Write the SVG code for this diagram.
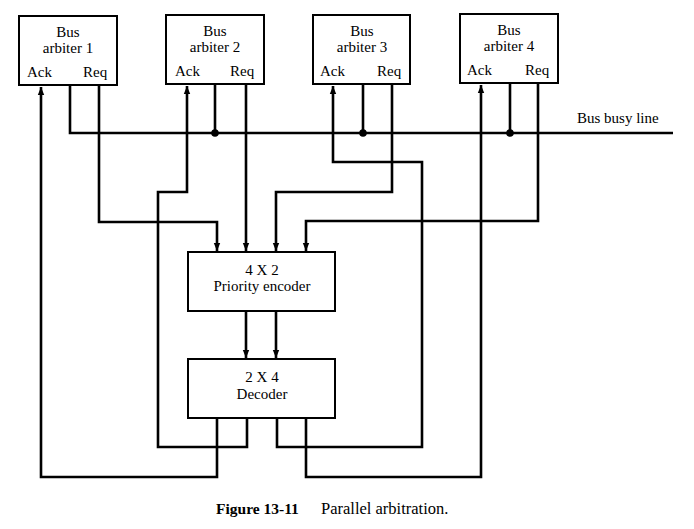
<svg xmlns="http://www.w3.org/2000/svg" width="694" height="529" viewBox="0 0 694 529">
<defs>
<marker id="arr" markerUnits="userSpaceOnUse" markerWidth="8" markerHeight="11" refX="10" refY="4" orient="auto" viewBox="0 0 10 8">
<path d="M0,0 L10,4 L0,8 z" fill="#000"/>
</marker>
<style>
.box{fill:#fff;stroke:#000;stroke-width:2}
.t{font-family:"Liberation Serif","Times New Roman",serif;font-size:15px;fill:#000}
.c{text-anchor:middle}
.w{fill:none;stroke:#000;stroke-width:2.6;stroke-linejoin:miter}
.a{marker-end:url(#arr)}
</style>
</defs>
<rect width="694" height="529" fill="#fff"/>

<g id="arbiter1">
<rect class="box" x="19" y="16" width="98" height="69"/>
<text class="t c" x="68" y="37">Bus</text>
<text class="t c" x="68" y="53">arbiter 1</text>
<text class="t" x="27" y="77">Ack</text>
<text class="t" x="83" y="77">Req</text>
</g>
<g id="arbiter2">
<rect class="box" x="166" y="15" width="98" height="69"/>
<text class="t c" x="215" y="36">Bus</text>
<text class="t c" x="215" y="52">arbiter 2</text>
<text class="t" x="175" y="76">Ack</text>
<text class="t" x="230" y="76">Req</text>
</g>
<g id="arbiter3">
<rect class="box" x="313" y="15" width="97" height="69"/>
<text class="t c" x="362" y="36">Bus</text>
<text class="t c" x="362" y="52">arbiter 3</text>
<text class="t" x="320" y="76">Ack</text>
<text class="t" x="377" y="76">Req</text>
</g>
<g id="arbiter4">
<rect class="box" x="460" y="14" width="98" height="69"/>
<text class="t c" x="509" y="35">Bus</text>
<text class="t c" x="509" y="51">arbiter 4</text>
<text class="t" x="467" y="75">Ack</text>
<text class="t" x="525" y="75">Req</text>
</g>
<g id="encoder">
<rect class="box" x="188" y="252" width="147" height="59"/>
<text class="t c" x="262" y="275">4 X 2</text>
<text class="t c" x="262" y="291">Priority encoder</text>
</g>
<g id="decoder">
<rect class="box" x="188" y="359" width="147" height="59"/>
<text class="t c" x="262" y="382">2 X 4</text>
<text class="t c" x="262" y="399">Decoder</text>
</g>
<g id="busbusy">
<text class="t" x="577" y="123">Bus busy line</text>
</g>

<g id="connectors">
<path class="w" d="M70,85 V133 H673"/>
<path class="w" d="M215,84 V133"/>
<path class="w" d="M363,84 V133"/>
<path class="w" d="M510,83 V133"/>
<circle cx="215" cy="133" r="3.8" fill="#000"/>
<circle cx="363" cy="133" r="3.8" fill="#000"/>
<circle cx="510" cy="133" r="3.8" fill="#000"/>

<path class="w a" d="M99,85 V222 H217 V251"/>
<path class="w a" d="M246,84 V251"/>
<path class="w a" d="M392,84 V192 H276 V251"/>
<path class="w a" d="M538,83 V221 H306 V251"/>

<path class="w a" d="M246,311 V358"/>
<path class="w a" d="M276,311 V358"/>

<path class="w a" d="M217,418 V477 H41 V87"/>
<path class="w a" d="M247,418 V447 H158 V192 H187 V86"/>
<path class="w a" d="M277,418 V447 H422 V162 H333 V86"/>
<path class="w a" d="M306,418 V477 H481 V85"/>
</g>

<g id="caption">
<text class="t" x="216" y="514" style="font-weight:bold;font-size:15.5px">Figure 13-11</text>
<text class="t" x="321" y="514" style="font-size:16.5px">Parallel arbitration.</text>
</g>
</svg>
